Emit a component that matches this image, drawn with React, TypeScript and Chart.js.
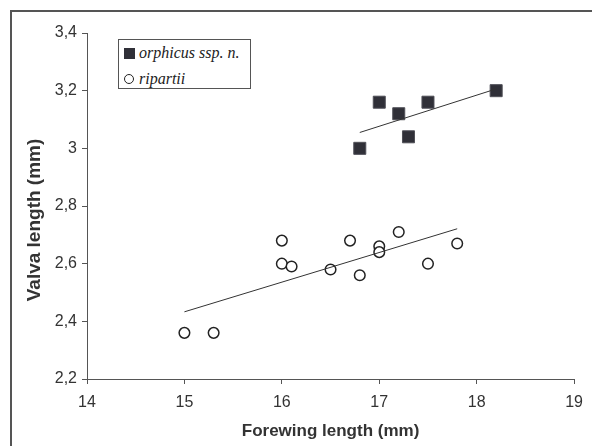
import React, { useEffect, useRef } from "react";
import { Chart, registerables } from "chart.js";

Chart.register(...registerables);

// Data
const orphicusX = [16.8, 17.0, 17.2, 17.3, 17.5, 18.2];
const orphicusY = [3.0, 3.16, 3.12, 3.04, 3.16, 3.2];
const ripartiiX = [15.0, 15.3, 16.0, 16.0, 16.1, 16.5, 16.7, 16.8, 17.0, 17.0, 17.2, 17.5, 17.8];
const ripartiiY = [2.36, 2.36, 2.68, 2.6, 2.59, 2.58, 2.68, 2.56, 2.66, 2.64, 2.71, 2.6, 2.67];
const orphicusTrendX = [16.8, 18.2];
const orphicusTrendY = [3.055, 3.206];
const ripartiiTrendX = [15.0, 17.8];
const ripartiiTrendY = [2.433, 2.721];
const xTickLabels = ["14", "15", "16", "17", "18", "19"];
const yTickLabels = ["2,2", "2,4", "2,6", "2,8", "3", "3,2", "3,4"];
const seriesNames = ["orphicus ssp. n.", "ripartii"];
const xTitle = "Forewing length (mm)";
const yTitle = "Valva length (mm)";

const SANS = "'Liberation Sans', Arial, sans-serif";

const toPts = (xs: number[], ys: number[]) => xs.map((x, i) => ({ x, y: ys[i] }));

const yTitlePlugin = {
  id: "yTitlePlugin",
  afterDraw(chart: any) {
    const ctx = chart.ctx;
    ctx.save();
    ctx.translate(35, 220);
    ctx.rotate(-Math.PI / 2);
    ctx.font = `bold 19px ${SANS}`;
    ctx.fillStyle = "#333";
    ctx.textAlign = "center";
    ctx.textBaseline = "middle";
    ctx.fillText(yTitle, 0, 0);
    ctx.restore();
  },
};

export default function App() {
  const ref = useRef<HTMLCanvasElement | null>(null);

  useEffect(() => {
    if (!ref.current) return;
    const chart = new Chart(ref.current, {
      type: "scatter",
      data: {
        datasets: [
          {
            label: seriesNames[0] + " trend",
            type: "line",
            data: toPts(orphicusTrendX, orphicusTrendY),
            borderColor: "#333",
            borderWidth: 1,
            pointRadius: 0,
            fill: false,
          } as any,
          {
            label: seriesNames[1] + " trend",
            type: "line",
            data: toPts(ripartiiTrendX, ripartiiTrendY),
            borderColor: "#333",
            borderWidth: 1,
            pointRadius: 0,
            fill: false,
          } as any,
          {
            label: seriesNames[0],
            data: toPts(orphicusX, orphicusY),
            pointStyle: "rect",
            pointRadius: 8.5,
            backgroundColor: "#303038",
            borderColor: "#505058",
            borderWidth: 1,
          },
          {
            label: seriesNames[1],
            data: toPts(ripartiiX, ripartiiY),
            pointStyle: "circle",
            pointRadius: 5.3,
            backgroundColor: "#ffffff",
            borderColor: "#222",
            borderWidth: 1.5,
          },
        ],
      },
      options: {
        animation: false,
        responsive: false,
        layout: { padding: { top: 33, right: 17, left: 0, bottom: 0 } },
        plugins: { legend: { display: false }, tooltip: { enabled: false } },
        scales: {
          x: {
            type: "linear",
            min: 14,
            max: 19,
            afterFit: (s: any) => {
              s.height = 67;
            },
            ticks: {
              stepSize: 1,
              padding: 9,
              color: "#333",
              font: { family: SANS, size: 16 },
              callback: (_v: any, i: number) => xTickLabels[i],
            },
            grid: { drawOnChartArea: false, tickLength: 5, color: "#555" },
            border: { color: "#555", width: 1 },
            title: {
              display: true,
              text: xTitle,
              color: "#333",
              font: { family: SANS, size: 17, weight: "bold" },
              padding: { top: 0, bottom: 4 },
            },
          },
          y: {
            type: "linear",
            min: 2.2,
            max: 3.4,
            afterFit: (s: any) => {
              s.width = 87;
            },
            ticks: {
              stepSize: 0.2,
              padding: 5,
              color: "#333",
              font: { family: SANS, size: 16 },
              callback: (_v: any, i: number) => yTickLabels[i],
            },
            grid: { drawOnChartArea: false, tickLength: 5, color: "#555" },
            border: { color: "#555", width: 1 },
          },
        },
      },
      plugins: [yTitlePlugin],
    });
    return () => chart.destroy();
  }, []);

  const legendText: React.CSSProperties = {
    fontFamily: "'Liberation Serif', 'Times New Roman', serif",
    fontStyle: "italic",
    fontSize: 16,
    color: "#222",
    lineHeight: "18px",
    whiteSpace: "nowrap",
  };

  return (
    <div style={{ position: "absolute", left: 0, top: 0, width: 592, height: 446, background: "#fff" }}>
      <canvas ref={ref} width={592} height={446} style={{ position: "absolute", left: 0, top: 0 }} />
      <div
        style={{
          position: "absolute",
          left: 10,
          top: 10,
          width: 582,
          height: 436,
          borderLeft: "2px solid #555",
          borderTop: "2px solid #555",
          boxSizing: "border-box",
          pointerEvents: "none",
        }}
      />
      <div
        style={{
          position: "absolute",
          left: 118,
          top: 39,
          width: 133,
          height: 50,
          border: "1px solid #555",
          boxSizing: "border-box",
          background: "#fff",
        }}
      >
        <div style={{ position: "absolute", left: 5, top: 8, width: 11, height: 11, background: "#303038" }} />
        <div style={{ position: "absolute", left: 20, top: 4, ...legendText }}>{seriesNames[0]}</div>
        <div
          style={{
            position: "absolute",
            left: 5,
            top: 34,
            width: 10,
            height: 10,
            border: "1.5px solid #222",
            borderRadius: "50%",
            boxSizing: "border-box",
          }}
        />
        <div style={{ position: "absolute", left: 20, top: 30, ...legendText }}>{seriesNames[1]}</div>
      </div>
    </div>
  );
}
